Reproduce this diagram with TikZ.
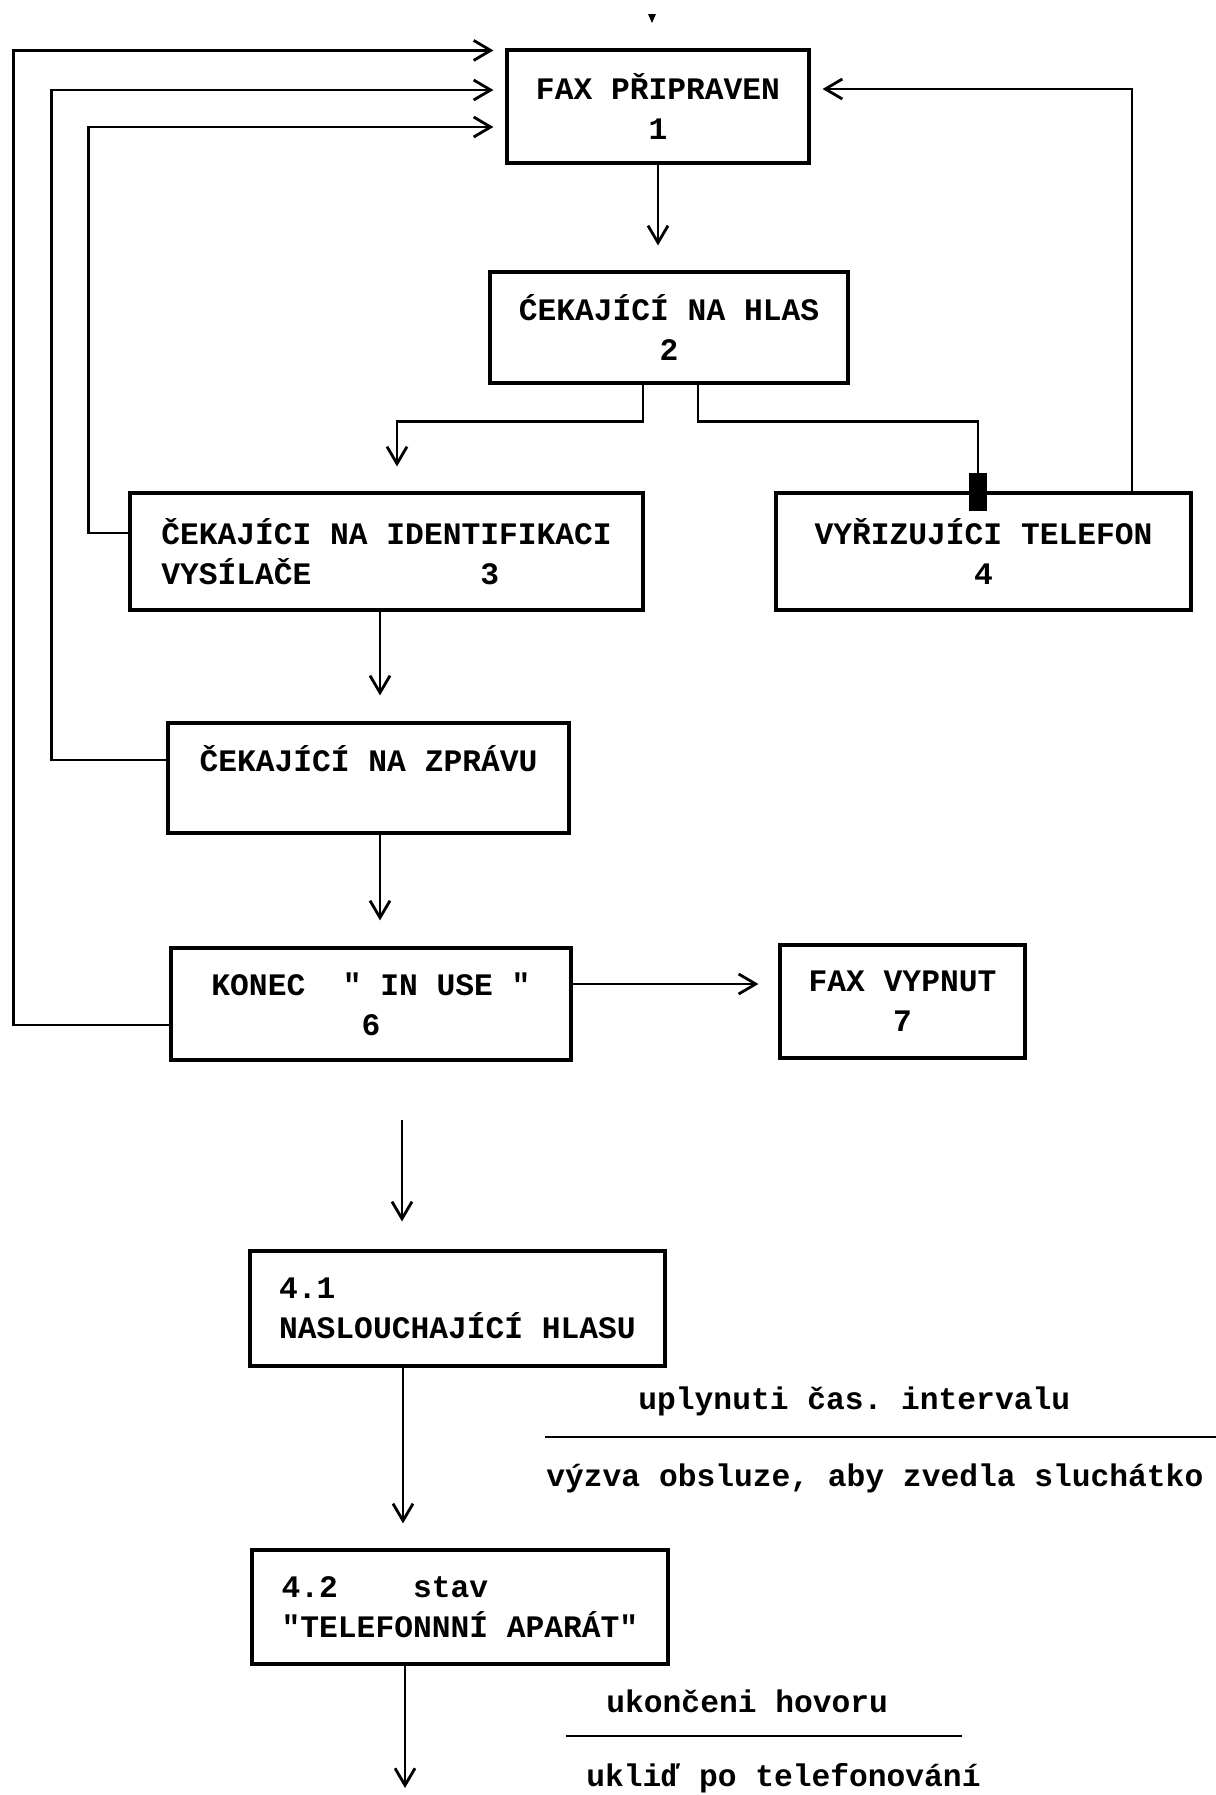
\documentclass[tikz,border=0pt]{standalone}
\usepackage{fontspec}
\setmonofont{Liberation Mono}
\usetikzlibrary{arrows.meta,calc}

\begin{document}
\begin{tikzpicture}[line width=0.8pt, main node/.style={draw, line width=0.9pt, inner sep=0pt, font=\ttfamily\bfseries\fontsize{8.9}{11.4}\selectfont}, node/.style={inner sep=0pt, font=\ttfamily\bfseries\fontsize{8.9}{11.4}\selectfont}, flow/.style={-{Straight Barb[length=1.7mm,width=2mm]}}]
\useasboundingbox (0,0) rectangle (12.16,-17.95);
\node[main node, minimum width=3.02cm, minimum height=1.13cm, align=center] (1) at (6.58,-1.065) {FAX PŘIPRAVEN\\1};
\node[main node, minimum width=3.58cm, minimum height=1.11cm, align=center] (2) at (6.69,-3.275) {ĆEKAJÍCÍ NA HLAS\\2};
\node[main node, minimum width=5.13cm, minimum height=1.17cm, align=left] (3) at (3.865,-5.515) {ČEKAJÍCI NA IDENTIFIKACI\\VYSÍLAČE~~~~~~~~~3};
\node[main node, minimum width=4.15cm, minimum height=1.17cm, align=center] (4) at (9.835,-5.515) {VYŘIZUJÍCI TELEFON\\4};
\node[main node, minimum width=4.01cm, minimum height=1.10cm, align=center] (5) at (3.685,-7.78) {ČEKAJÍCÍ NA ZPRÁVU\\~};
\node[main node, minimum width=4.00cm, minimum height=1.12cm, align=left] (6) at (3.71,-10.04) {KONEC~~" IN USE "\\~~~~~~~~6};
\node[main node, minimum width=2.45cm, minimum height=1.13cm, align=center] (7) at (9.025,-10.015) {FAX VYPNUT\\7};
\node[main node, minimum width=4.15cm, minimum height=1.15cm, align=left] (41) at (4.575,-13.085) {4.1\\NASLOUCHAJÍCÍ HLASU};
\node[main node, minimum width=4.16cm, minimum height=1.14cm, align=left] (42) at (4.60,-16.07) {4.2~~~~stav\\"TELEFONNNÍ APARÁT"};
\coordinate (feed) at (4.02,-11.20);
\coordinate (stop) at (4.05,-17.88);
% main path down
\draw[flow, shorten >=0.25cm] (1.south) -- (1.south |- 2.north);
\draw[flow, shorten >=0.25cm] ([xshift=-0.26cm]2.south) -- ++(0,-0.37) -| ([xshift=0.105cm]3.north);
\draw ([xshift=0.29cm]2.south) -- ++(0,-0.37) -| ([xshift=-0.055cm]4.north);
\draw[flow, shorten >=0.26cm] ([xshift=-0.065cm]3.south) -- ([xshift=-0.065cm]3.south |- 5.north);
\draw[flow, shorten >=0.26cm] ([xshift=0.115cm]5.south) -- ([xshift=0.115cm]5.south |- 6.north);
\draw[flow, shorten >=0.20cm] ([yshift=0.20cm]6.east) -- ([yshift=0.20cm]6.east -| 7.west);
% back to 1
\draw[flow, shorten >=0.12cm] ([xshift=1.485cm]4.north) |- ([yshift=0.175cm]1.east);
\draw[flow, shorten >=0.12cm] ([yshift=0.185cm]3.west) -- ++(-0.40,0) |- ([yshift=-0.205cm]1.west);
\draw[flow, shorten >=0.12cm] ([yshift=0.18cm]5.west) -- ++(-1.15,0) |- ([yshift=0.165cm]1.west);
\draw[flow, shorten >=0.12cm] ([yshift=-0.21cm]6.west) -- ++(-1.56,0) |- ([yshift=-0.02cm]1.north west);
\node[fill, inner sep=0pt, minimum width=0.18cm, minimum height=0.38cm] (plug) at ([xshift=-0.055cm,yshift=-0.01cm]4.north) {};
% 4.1 and 4.2
\draw[flow, shorten >=0.28cm] (feed) -- (feed |- 41.north);
\draw[flow, shorten >=0.25cm] ([xshift=-0.545cm]41.south) -- ([xshift=-0.545cm]41.south |- 42.north);
\draw[flow] ([xshift=-0.55cm]42.south) -- (stop);
\node[node, anchor=west] (timeout) at (6.37,-14.01) {uplynuti čas. intervalu};
\draw (5.45,-14.37) -- (12.16,-14.37);
\node[node, anchor=west] (prompt) at (5.45,-14.78) {výzva obsluze, aby zvedla sluchátko};
\node[node, anchor=west] (hangup) at (6.05,-17.01) {ukončeni hovoru};
\draw (5.66,-17.36) -- (9.62,-17.36);
\node[node, anchor=west] (cleanup) at (5.85,-17.78) {ukliď po telefonování};
\fill (6.48,-0.14) -- (6.56,-0.14) -- (6.52,-0.23) -- cycle;
\end{tikzpicture}
\end{document}
